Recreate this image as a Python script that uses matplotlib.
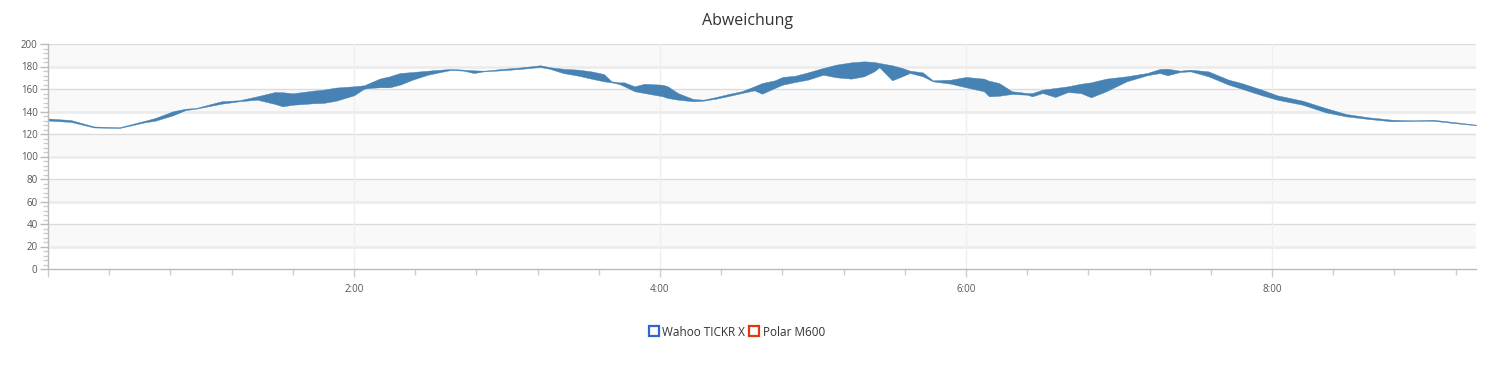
import matplotlib
matplotlib.use("Agg")
import matplotlib.pyplot as plt
from matplotlib.lines import Line2D
from matplotlib.ticker import FixedLocator, MultipleLocator

plt.rcParams['font.family'] = ['Open Sans', 'DejaVu Sans']

title = "Abweichung"
series_names = ["Wahoo TICKR X", "Polar M600"]
series_colors = ["#3366cc", "#dc3912"]
band_color = "#4682b4"

# time in seconds
time_s = [0, 9, 18, 28, 38, 42, 49, 54, 58, 68, 75, 82, 89, 92, 96, 104, 108, 113,
          120, 124, 126, 130, 134, 138, 143, 149, 154, 158, 163, 167, 171, 178, 186,
          193, 197, 202, 208, 213, 218, 221, 224, 226, 230, 234, 241, 243, 247, 253,
          257, 262, 267, 272, 277, 280, 285, 288, 293, 298, 304, 309, 315, 320, 324,
          326, 331, 335, 338, 343, 347, 354, 360, 367, 369, 373, 378, 384, 386, 390,
          395, 400, 405, 409, 415, 423, 431, 436, 439, 444, 448, 455, 463, 468, 476,
          482, 492, 501, 509, 518, 527, 535, 543, 551, 560]

wahoo = [133.8, 132.4, 126.7, 126.0, 131.8, 134.2, 140.2, 142.5, 143.1, 149.1, 150.0,
         153.5, 157.3, 157.1, 156.2, 158.5, 159.4, 161.3, 162.4, 163.3, 165.3, 169.2,
         171.3, 174.2, 175.1, 176.3, 177.2, 177.8, 177.2, 176.6, 176.3, 177.8, 179.3,
         181.1, 179.3, 178.0, 177.2, 175.7, 173.3, 166.8, 165.9, 165.9, 162.4, 164.7,
         163.8, 162.4, 156.4, 151.1, 150.5, 152.9, 155.6, 158.0, 162.4, 165.3, 167.7,
         170.7, 171.8, 174.8, 178.7, 181.6, 183.7, 184.6, 184.0, 183.1, 181.1, 178.7,
         176.3, 174.8, 167.7, 168.3, 170.7, 169.2, 167.4, 165.3, 158.0, 156.4, 156.4,
         159.4, 160.9, 162.4, 164.7, 165.9, 169.2, 171.3, 174.2, 177.8, 178.0, 176.3,
         177.2, 175.7, 168.3, 165.3, 159.4, 154.4, 149.6, 143.1, 137.8, 134.8, 132.7,
         132.2, 132.7, 130.7, 128.3]

polar = [132.0, 130.7, 125.8, 125.3, 130.4, 131.8, 136.6, 141.3, 142.5, 146.9, 149.1,
         150.5, 146.7, 144.6, 146.0, 147.3, 147.6, 149.6, 154.4, 160.3, 160.9, 161.5,
         161.5, 163.8, 168.3, 172.7, 175.1, 176.9, 176.3, 174.2, 175.7, 176.6, 178.0,
         179.6, 177.8, 174.2, 171.8, 169.2, 166.8, 165.9, 164.4, 162.4, 158.0, 156.4,
         153.5, 152.0, 150.5, 149.1, 149.6, 151.4, 153.8, 156.4, 158.8, 155.8, 160.9,
         163.8, 166.2, 168.3, 172.7, 170.4, 169.2, 171.3, 175.7, 179.3, 167.7, 171.3,
         174.2, 171.3, 166.8, 164.7, 161.5, 158.0, 153.5, 154.0, 155.6, 154.9, 153.5,
         156.4, 152.9, 157.3, 156.4, 152.6, 158.0, 166.8, 172.2, 174.2, 172.2, 175.1,
         175.7, 171.3, 163.8, 160.3, 154.4, 150.5, 146.0, 139.3, 135.7, 133.3, 131.3,
         131.6, 131.8, 129.8, 127.8]

x_major = [0, 120, 240, 360, 480]
x_labels = ["", "2:00", "4:00", "6:00", "8:00"]
y_major = [0, 20, 40, 60, 80, 100, 120, 140, 160, 180, 200]

W, H = 1494, 370
fig = plt.figure(figsize=(W / 100, H / 100), dpi=100)
ax = fig.add_axes([48 / W, (H - 269) / H, (1476 - 48) / W, (269 - 44) / H])
ax.set_xlim(0, 560)
ax.set_ylim(0, 200)

# alternating bands
for lo in range(0, 200, 20):
    if (lo // 20) % 2 == 1:
        ax.axhspan(lo, lo + 20, color="#f9f9f9", zorder=0, lw=0)
for v in y_major[1:]:
    if (v // 20) % 2 == 1:
        ax.axhline(v, color="#ececec", lw=2.0, zorder=0.5)
    else:
        ax.axhline(v, color="#dcdcdc", lw=1.0, zorder=0.5)
for v in x_major[1:]:
    ax.axvline(v, color="#efefef", lw=1.0, zorder=0.6)

ax.fill_between(time_s, wahoo, polar, color=band_color, lw=0.3, edgecolor=band_color, zorder=2)

for s in ["top", "right"]:
    ax.spines[s].set_visible(False)
for s in ["left", "bottom"]:
    ax.spines[s].set_color("#bbbbbb")
    ax.spines[s].set_linewidth(1)

ax.yaxis.set_major_locator(FixedLocator(y_major))
ax.yaxis.set_minor_locator(MultipleLocator(4))
ax.xaxis.set_major_locator(FixedLocator(x_major))
ax.xaxis.set_minor_locator(MultipleLocator(24))
ax.set_xticklabels(x_labels)

ax.tick_params(axis="y", which="major", length=6, width=1, color="#bbbbbb",
               labelsize=7, labelcolor="#555555", pad=1.5)
ax.tick_params(axis="y", which="minor", length=3.6, width=1, color="#cccccc")
ax.tick_params(axis="x", which="major", length=6, width=1, color="#cccccc",
               labelsize=7, labelcolor="#555555", pad=5)
ax.tick_params(axis="x", which="minor", length=4, width=1, color="#cccccc")

fig.text(0.5, 1 - 21 / H, title, ha="center", va="center", fontsize=11.5, color="#333333")

handles = [Line2D([], [], linestyle="none", marker="s", markersize=6.5,
                  markerfacecolor="white", markeredgecolor=c, markeredgewidth=1.6)
           for c in series_colors]
fig.legend(handles, series_names, loc="center", bbox_to_anchor=(737 / W, 1 - 332 / H),
           ncol=2, frameon=False, fontsize=8.5, handlelength=0.8, handletextpad=0.3,
           columnspacing=0.4, labelcolor="#333333")

fig.savefig("out.png", dpi=100)
